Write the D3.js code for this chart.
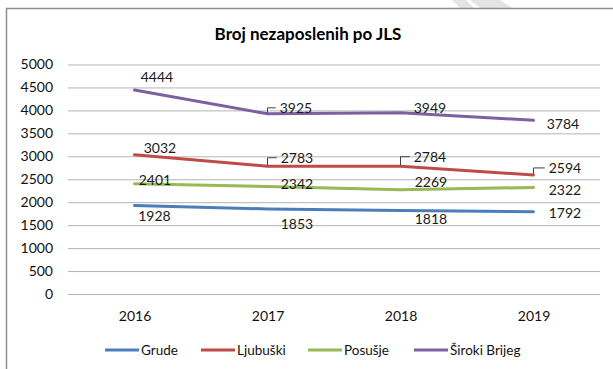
<!DOCTYPE html>
<html>
<head>
<meta charset="utf-8">
<script src="https://cdn.jsdelivr.net/npm/d3@7"></script>
<style>
  html, body { margin: 0; padding: 0; background: #ffffff; }
  svg { display: block; }
  text { font-family: Lato, "Open Sans", sans-serif; }
</style>
</head>
<body>
<script>
// Unemployment counts per municipality (JLS), 2016–2019
const years = ["2016", "2017", "2018", "2019"];
const grude = [1928, 1853, 1818, 1792];
const ljubuski = [3032, 2783, 2784, 2594];
const posusje = [2401, 2342, 2269, 2322];
const sirokiBrijeg = [4444, 3925, 3949, 3784];
const seriesNames = ["Grude", "Ljubuški", "Posušje", "Široki Brijeg"];
const yTicks = [0, 500, 1000, 1500, 2000, 2500, 3000, 3500, 4000, 4500, 5000];

const series = [
  { name: seriesNames[0], values: grude, color: "#4a7ebb" },
  { name: seriesNames[1], values: ljubuski, color: "#be4b48" },
  { name: seriesNames[2], values: posusje, color: "#98b954" },
  { name: seriesNames[3], values: sirokiBrijeg, color: "#7d60a0" }
];

// Data-label placement per series (offset of label centre from the point, optional leader line)
const labelLayout = {
  "Grude":         [{dx: 20, dy: 10}, {dx: 29.5, dy: 15}, {dx: 30.5, dy: 8}, {dx: 31.5, dy: 1}],
  "Ljubuški":      [{dx: 25.5, dy: -7}, {dx: 29.5, dy: -8.5, leader: true}, {dx: 29.5, dy: -9.5, leader: true}, {dx: 31.5, dy: -7, leader: true}],
  "Posušje":       [{dx: 20.5, dy: -4}, {dx: 29.5, dy: -3}, {dx: 30.5, dy: -8}, {dx: 31.5, dy: 2}],
  "Široki Brijeg": [{dx: 22.5, dy: -13.5}, {dx: 28.5, dy: -6, leader: true}, {dx: 29.5, dy: -5}, {dx: 29.5, dy: 3}]
};

const W = 613, H = 369;
const svg = d3.select("body").append("svg").attr("width", W).attr("height", H);

// faint diagonal watermark strokes peeking above the chart frame
const wm = svg.append("g").attr("fill", "#e4e4e4");
wm.append("path").attr("d", "M452,0 L466,0 L474,8 L460,8 Z");
wm.append("path").attr("d", "M470,0 L500,0 L512,8 L480,8 Z");

// chart frame
svg.append("rect").attr("x", 6.5).attr("y", 8.5).attr("width", W).attr("height", H)
  .attr("fill", "#ffffff").attr("stroke", "#8e8e8e").attr("stroke-width", 1.5);

const x = d3.scalePoint().domain(years).range([68, 600]).padding(0.5);
const y = d3.scaleLinear().domain([0, 5000]).range([294, 64.5]);

// title
svg.append("text").attr("x", 308).attr("y", 33).attr("text-anchor", "middle")
  .attr("dominant-baseline", "central").attr("font-weight", "bold").attr("font-size", 17)
  .attr("fill", "#000").text("Broj nezaposlenih po JLS");

// horizontal gridlines + y labels
const yAxis = d3.axisLeft(y).tickValues(yTicks).tickSize(-(600 - 68)).tickPadding(15).tickFormat(d3.format("d"));
const gy = svg.append("g").attr("transform", "translate(68,0)").call(yAxis);
gy.select(".domain").remove();
gy.selectAll(".tick line").attr("stroke", "#b4b4b4").attr("stroke-width", 1);
gy.selectAll(".tick text").attr("font-size", 14).attr("fill", "#111").attr("font-family", "Lato, sans-serif");

// x labels
const xAxis = d3.axisBottom(x).tickSize(0).tickPadding(17);
const gx = svg.append("g").attr("transform", "translate(0,294)").call(xAxis);
gx.select(".domain").remove();
gx.selectAll(".tick text").attr("font-size", 14).attr("fill", "#111").attr("font-family", "Lato, sans-serif");

// lines
const line = d3.line().x((d, i) => x(years[i])).y(d => y(d));
svg.append("g").selectAll("path").data(series).join("path")
  .attr("d", d => line(d.values))
  .attr("fill", "none").attr("stroke", d => d.color).attr("stroke-width", 3)
  .attr("stroke-linecap", "round").attr("stroke-linejoin", "round");

// data labels with optional leader lines
const lbl = svg.append("g");
series.forEach(s => {
  s.values.forEach((v, i) => {
    const px = x(years[i]), py = y(v);
    const L = labelLayout[s.name][i];
    const cx = px + L.dx, cy = py + L.dy;
    const t = lbl.append("text").attr("x", cx).attr("y", cy)
      .attr("text-anchor", "middle").attr("dominant-baseline", "central")
      .attr("font-size", 14).attr("fill", "#1a1a1a").text(v);
    if (L.leader) {
      const w = t.node().getComputedTextLength();
      const left = cx - w / 2 - 4;
      lbl.append("path")
        .attr("d", `M${px},${py - 1}V${cy}H${left}`)
        .attr("fill", "none").attr("stroke", "#404040").attr("stroke-width", 1);
    }
  });
});

// legend
const legendX = [105, 201, 308, 414];
const lg = svg.append("g").attr("transform", "translate(0,350)");
series.forEach((s, i) => {
  const g = lg.append("g").attr("transform", `translate(${legendX[i]},0)`);
  g.append("line").attr("x1", 0).attr("x2", 34).attr("stroke", s.color).attr("stroke-width", 3);
  g.append("text").attr("x", 36).attr("dominant-baseline", "central")
    .attr("font-size", 13.5).attr("fill", "#111").text(s.name);
});
</script>
</body>
</html>
